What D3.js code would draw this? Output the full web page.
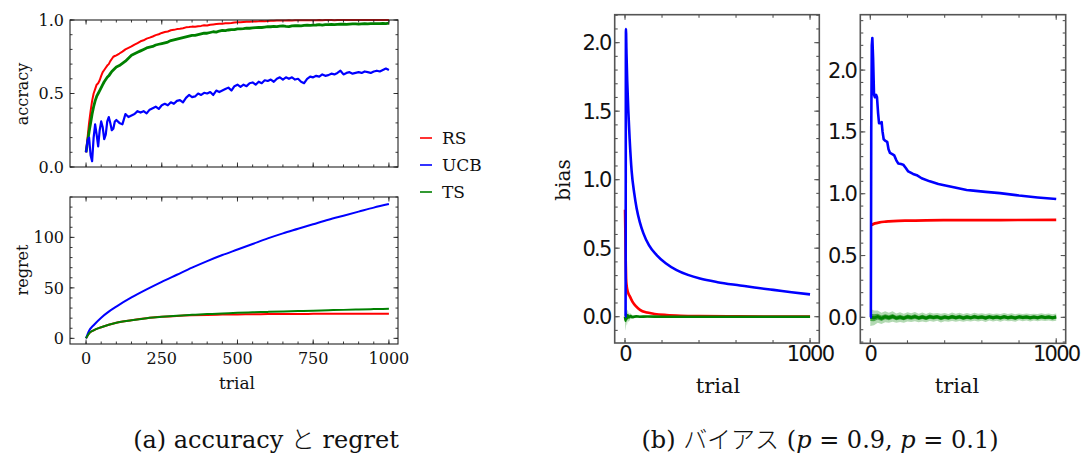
<!DOCTYPE html>
<html>
<head>
<meta charset="utf-8">
<script src="https://cdn.jsdelivr.net/npm/d3@7"></script>
<style>
  html, body { margin: 0; padding: 0; background: #fff; }
  svg { display: block; }
</style>
</head>
<body>
<svg id="chart" width="1085" height="458"></svg>
<script>
// ---------------- DATA ----------------
const seriesNames = ["RS", "UCB", "TS"];
const seriesColors = ["#ff0000", "#0000ff", "#008000"];

// accuracy: trials 0..100 step 5, then 110..1000 step 10
const accTrials = d3.range(0, 101, 5).concat(d3.range(110, 1001, 10));
const accRS = [0.10,0.20,0.30,0.38,0.45,0.50,0.53,0.56,0.57,0.59,0.62,0.645,0.66,0.675,0.69,0.70,0.72,0.735,0.75,0.755,0.76,
  0.772,0.785,0.80,0.81,0.82,0.832,0.843,0.855,0.862,0.873,
  0.88,0.888,0.897,0.903,0.912,0.918,0.922,0.93,0.933,0.938,
  0.94,0.944,0.95,0.952,0.955,0.954,0.958,0.96,0.964,0.963,
  0.968,0.97,0.972,0.974,0.975,0.978,0.978,0.98,0.983,0.984,
  0.985,0.987,0.988,0.988,0.99,0.99,0.991,0.993,0.992,0.994,
  0.995,0.995,0.996,0.996,0.997,0.997,0.998,0.997,0.998,0.998,
  0.999,0.998,0.999,0.999,0.999,0.999,1.0,0.999,1.0,1.0,
  1.0,0.999,1.0,1.0,1.0,1.0,1.0,1.0,1.0,1.0,
  1.0,1.0,1.0,1.0,1.0,1.0,1.0,1.0,1.0,1.0];
const accUCB = [0.10,0.18,0.20,0.08,0.04,0.20,0.29,0.22,0.14,0.25,0.31,0.27,0.19,0.22,0.31,0.34,0.30,0.25,0.26,0.31,0.32,
  0.30,0.29,0.36,0.34,0.35,0.36,0.38,0.37,0.38,0.365,
  0.39,0.40,0.41,0.395,0.42,0.43,0.42,0.44,0.43,0.45,
  0.455,0.44,0.47,0.49,0.475,0.48,0.50,0.49,0.505,0.50,
  0.51,0.49,0.52,0.51,0.52,0.53,0.54,0.52,0.55,0.56,
  0.545,0.56,0.55,0.57,0.575,0.56,0.58,0.57,0.59,0.585,
  0.595,0.58,0.60,0.61,0.595,0.61,0.60,0.61,0.595,0.60,
  0.58,0.57,0.60,0.615,0.61,0.62,0.615,0.63,0.62,0.625,
  0.635,0.63,0.64,0.655,0.63,0.64,0.645,0.635,0.64,0.645,
  0.64,0.65,0.645,0.64,0.65,0.655,0.65,0.66,0.67,0.66];
const accTS = [0.10,0.17,0.24,0.30,0.36,0.41,0.45,0.48,0.50,0.52,0.54,0.56,0.58,0.595,0.61,0.62,0.635,0.65,0.66,0.67,0.68,
  0.69,0.705,0.72,0.74,0.76,0.77,0.78,0.79,0.80,0.81,
  0.815,0.82,0.83,0.835,0.84,0.845,0.85,0.86,0.865,0.87,
  0.875,0.88,0.885,0.89,0.895,0.895,0.90,0.905,0.91,0.91,
  0.915,0.92,0.918,0.925,0.93,0.928,0.932,0.935,0.934,0.94,
  0.94,0.942,0.945,0.944,0.946,0.948,0.95,0.949,0.952,0.955,
  0.954,0.956,0.955,0.958,0.96,0.957,0.955,0.96,0.961,0.962,
  0.96,0.963,0.965,0.963,0.965,0.966,0.968,0.965,0.968,0.968,
  0.97,0.968,0.97,0.971,0.972,0.97,0.972,0.973,0.974,0.972,
  0.974,0.975,0.974,0.975,0.976,0.975,0.976,0.977,0.975,0.978];

// regret
const regTrials = [0,10,25,50,75,100,150,200,250,300,350,400,450,500,550,600,650,700,750,800,850,900,950,1000];
const regRS  = [0,5,8,11,13.5,15.5,18,20,21.3,22.2,22.8,23.2,23.5,23.7,23.85,24,24.1,24.2,24.25,24.3,24.35,24.4,24.4,24.4];
const regUCB = [0,7.5,13,20.5,26.5,31.5,40.5,48.5,56,63,70,76.5,82.5,88,93.5,99,104,108.5,113,117.5,121.5,125.5,129.5,133];
const regTS  = [0,5,8,11,13.5,15.5,18,20,21.4,22.5,23.3,24,24.6,25.3,25.8,26.2,26.6,27,27.4,27.9,28.2,28.6,29,29.3];

// bias, p = 0.9
const b9UCBTrials = [0,3,5,8,12,18,25,36,50,63,80,99,130,171,220,279,340,405,500,622,700,802,900,1000];
const b9UCB       = [0,0,2.1,1.92,1.72,1.5,1.3,1.06,0.9,0.79,0.69,0.61,0.52,0.45,0.39,0.34,0.305,0.278,0.252,0.228,0.213,0.196,0.179,0.163];
const b9RSTrials  = [0,2,4,6,8,12,18,27,40,60,81,120,160,225,300,400,600,800,1000];
const b9RS        = [0.78,0.6,0.4,0.28,0.24,0.2,0.17,0.146,0.11,0.075,0.05,0.03,0.02,0.012,0.007,0.004,0.002,0.001,0.001];
const b9RSSpread  = [0.05,0.05,0.04,0.04,0.035,0.03,0.025,0.02,0.015,0.01,0.008,0.006,0.005,0.004,0.003,0.002,0.002,0.002,0.002];
const b9TSTrials  = [0,3,6,10,15,20,30,40,60,80,120,200,400,600,800,1000];
const b9TS        = [0,-0.03,0.02,-0.015,0.01,-0.006,0.004,-0.002,0.002,0,0.001,0,0,0,0,0];
const b9TSSpread  = [0.07,0.07,0.06,0.05,0.04,0.03,0.02,0.015,0.01,0.008,0.006,0.005,0.004,0.004,0.004,0.004];

// bias, p = 0.1
const b1UCBTrials = [0,3,5,8,11,15,20,25,31,36,42,47,55,61,66,72,79,91,98,106,118,129,140,150,165,177,190,204,230,250,276,320,366,410,455,518,554,620,697,800,900,1000];
const b1UCB       = [0,0,1.5,2.2,2.26,2.1,1.8,1.78,1.80,1.78,1.65,1.57,1.57,1.58,1.50,1.44,1.43,1.42,1.36,1.33,1.32,1.31,1.27,1.245,1.24,1.235,1.21,1.18,1.16,1.15,1.125,1.10,1.078,1.065,1.05,1.03,1.025,1.015,1.005,0.985,0.97,0.957];
const b1RSTrials  = [0,10,25,50,75,100,150,200,300,500,700,1000];
const b1RS        = [0.745,0.75,0.76,0.768,0.773,0.776,0.78,0.782,0.785,0.786,0.787,0.788];
const b1TSTrials  = d3.range(0, 1001, 20);
const b1TS        = [0,-0.004,0.006,-0.008,0.005,-0.003,0.007,-0.006,0.002,-0.007,0.004,-0.002,0.006,-0.005,0.003,-0.006,0.005,-0.002,0.004,-0.006,0.002,-0.004,0.005,-0.003,0.004,-0.005,0.003,-0.004,0.005,-0.002,0.003,-0.005,0.004,-0.003,0.002,-0.004,0.005,-0.003,0.002,-0.005,0.004,-0.002,0.003,-0.004,0.002,-0.003,0.004,-0.002,0.003,-0.004,0.002];
const b1TSSpread  = [0.07,0.06,0.05,0.046,0.044,0.04,0.042,0.038,0.04,0.036,0.038,0.035,0.037,0.034,0.036,0.033,0.035,0.034,0.032,0.035,0.033,0.031,0.034,0.032,0.033,0.031,0.033,0.03,0.032,0.031,0.03,0.032,0.03,0.031,0.029,0.031,0.03,0.029,0.031,0.03,0.028,0.03,0.029,0.03,0.028,0.029,0.03,0.028,0.029,0.028,0.029];
const b1TSCore    = [0.03,0.028,0.024,0.022,0.02,0.02,0.019,0.018,0.019,0.017,0.018,0.017,0.018,0.016,0.017,0.016,0.017,0.016,0.015,0.017,0.016,0.015,0.016,0.015,0.016,0.015,0.016,0.014,0.015,0.015,0.014,0.015,0.014,0.015,0.014,0.015,0.014,0.014,0.015,0.014,0.013,0.014,0.014,0.014,0.013,0.014,0.014,0.013,0.014,0.013,0.014];

// ---------------- DRAW ----------------
const svg = d3.select("#chart");
svg.append("rect").attr("width", 1085).attr("height", 458).attr("fill", "#fff");

const SERIF = "'DejaVu Serif', serif";
const SANS = "'DejaVu Sans', sans-serif";

function zip(xs, ys) { return xs.map((x, i) => [x, ys[i]]); }

function frameAndTicks(g, x, y, opt) {
  const [x0, x1] = x.range(), [y0, y1] = y.range();
  const tk = g.append("g").attr("stroke", opt.color).attr("stroke-width", opt.tickW);
  opt.xMinor.forEach(v => {
    const px = x(v);
    tk.append("line").attr("x1", px).attr("x2", px).attr("y1", y0).attr("y2", y0 - opt.minL);
    tk.append("line").attr("x1", px).attr("x2", px).attr("y1", y1).attr("y2", y1 + opt.minL);
  });
  opt.xMajor.forEach(v => {
    const px = x(v);
    tk.append("line").attr("x1", px).attr("x2", px).attr("y1", y0).attr("y2", y0 - opt.majL);
    tk.append("line").attr("x1", px).attr("x2", px).attr("y1", y1).attr("y2", y1 + opt.majL);
  });
  opt.yMinor.forEach(v => {
    const py = y(v);
    tk.append("line").attr("x1", x0).attr("x2", x0 + opt.minL).attr("y1", py).attr("y2", py);
    tk.append("line").attr("x1", x1).attr("x2", x1 - opt.minL).attr("y1", py).attr("y2", py);
  });
  opt.yMajor.forEach(v => {
    const py = y(v);
    tk.append("line").attr("x1", x0).attr("x2", x0 + opt.majL).attr("y1", py).attr("y2", py);
    tk.append("line").attr("x1", x1).attr("x2", x1 - opt.majL).attr("y1", py).attr("y2", py);
  });
  g.append("rect").attr("x", x0).attr("y", y1).attr("width", x1 - x0).attr("height", y0 - y1)
    .attr("fill", "none").attr("stroke", opt.color).attr("stroke-width", opt.frameW);
  if (opt.yLabels) {
    g.selectAll(null).data(opt.yMajor).enter().append("text")
      .attr("x", x0 - opt.yLabGap).attr("y", v => y(v)).attr("dy", "0.36em")
      .attr("text-anchor", "end").attr("font-family", opt.font).attr("font-size", opt.fs)
      .attr("letter-spacing", opt.ls || 0).attr("fill", "#111").text(opt.yFmt);
  }
  if (opt.xLabels) {
    g.selectAll(null).data(opt.xMajor).enter().append("text")
      .attr("x", v => x(v)).attr("y", y0 + opt.xLabGap).attr("dy", "0.72em")
      .attr("text-anchor", "middle").attr("font-family", opt.font).attr("font-size", opt.fs)
      .attr("letter-spacing", opt.ls || 0).attr("fill", "#111").text(opt.xFmt);
  }
}

// ---- Panel (a) top: accuracy
const xL = d3.scaleLinear().domain([-53, 1030]).range([70, 398]);
const yAcc = d3.scaleLinear().domain([0, 1]).range([167, 20]);
const gAcc = svg.append("g");
const leftOpt = {
  color: "#222", tickW: 0.9, frameW: 1.1, majL: 4.5, minL: 2.5,
  xMajor: d3.range(0, 1001, 250), xMinor: d3.range(0, 1001, 50),
  font: SERIF, fs: 16, yLabGap: 6, xLabGap: 8
};
svg.append("clipPath").attr("id", "clipAcc").append("rect")
  .attr("x", 70).attr("y", 18).attr("width", 328).attr("height", 149);
const lineAcc = d3.line().x(d => xL(d[0])).y(d => yAcc(d[1]));
const accSeries = [accRS, accUCB, accTS];
const accWidths = [2.0, 2.2, 2.8];
[0, 2, 1].forEach(i => {
  gAcc.append("path").attr("d", lineAcc(zip(accTrials, accSeries[i])))
    .attr("fill", "none").attr("stroke", seriesColors[i]).attr("stroke-width", accWidths[i])
    .attr("stroke-linejoin", "round").attr("clip-path", "url(#clipAcc)");
});
frameAndTicks(gAcc, xL, yAcc, Object.assign({}, leftOpt, {
  yMajor: [0, 0.5, 1.0], yMinor: d3.range(0, 1.001, 0.1),
  yLabels: true, yFmt: d3.format(".1f"), xLabels: false
}));
gAcc.append("text").attr("transform", "translate(28,94) rotate(-90)")
  .attr("text-anchor", "middle").attr("font-family", SERIF).attr("font-size", 16)
  .attr("fill", "#111").text("accracy");

// ---- Panel (a) bottom: regret
const yReg = d3.scaleLinear().domain([-5.6, 140]).range([344, 197]);
const gReg = svg.append("g");
const lineReg = d3.line().curve(d3.curveMonotoneX).x(d => xL(d[0])).y(d => yReg(d[1]));
const regSeries = [regRS, regUCB, regTS];
[0, 1, 2].forEach(i => {
  gReg.append("path").attr("d", lineReg(zip(regTrials, regSeries[i])))
    .attr("fill", "none").attr("stroke", seriesColors[i]).attr("stroke-width", 2.0);
});
frameAndTicks(gReg, xL, yReg, Object.assign({}, leftOpt, {
  yMajor: [0, 50, 100], yMinor: d3.range(0, 141, 10),
  yLabels: true, yFmt: d3.format("d"), xLabels: true, xFmt: d3.format("d")
}));
gReg.append("text").attr("transform", "translate(28,270) rotate(-90)")
  .attr("text-anchor", "middle").attr("font-family", SERIF).attr("font-size", 16)
  .attr("fill", "#111").text("regret");
gReg.append("text").attr("x", 237).attr("y", 389)
  .attr("text-anchor", "middle").attr("font-family", SERIF).attr("font-size", 17)
  .attr("fill", "#111").text("trial");

// ---- Legend
const leg = svg.append("g");
seriesNames.forEach((n, i) => {
  const yy = 138 + i * 27;
  leg.append("line").attr("x1", 420).attr("x2", 432).attr("y1", yy).attr("y2", yy)
    .attr("stroke", seriesColors[i]).attr("stroke-width", 1.6);
  leg.append("text").attr("x", 442).attr("y", yy).attr("dy", "0.36em")
    .attr("font-family", SERIF).attr("font-size", 17).attr("fill", "#111").text(n);
});

// ---- Panel (b) helpers
const rightOpt = {
  color: "#555", tickW: 1.1, frameW: 1.6, majL: 5, minL: 3,
  xMajor: [0, 1000], xMinor: d3.range(0, 1001, 200),
  font: SANS, fs: 21, ls: -1.7, yLabGap: 4, xLabGap: 3,
  yLabels: true, xLabels: true, yFmt: d3.format(".1f"), xFmt: d3.format("d")
};

function biasPanel(x, y, parts, yMajor, yMinor, clipId) {
  const g = svg.append("g");
  const [x0, x1] = x.range(), [y0, y1] = y.range();
  svg.append("clipPath").attr("id", clipId).append("rect")
    .attr("x", x0).attr("y", y1).attr("width", x1 - x0).attr("height", y0 - y1);
  const gd = g.append("g").attr("clip-path", `url(#${clipId})`);
  parts.forEach(p => {
    (p.bands || []).forEach(b => {
      const area = d3.area().curve(p.curve || d3.curveMonotoneX)
        .x((d, i) => x(p.t[i])).y0((d, i) => y(p.v[i] - b.s[i])).y1((d, i) => y(p.v[i] + b.s[i]));
      gd.append("path").attr("d", area(p.v)).attr("fill", p.color).attr("opacity", b.op);
    });
    const line = d3.line().curve(p.curve || d3.curveMonotoneX).x(d => x(d[0])).y(d => y(d[1]));
    gd.append("path").attr("d", line(zip(p.t, p.v))).attr("fill", "none")
      .attr("stroke", p.color).attr("stroke-width", p.w || 2.5).attr("stroke-linejoin", "round");
  });
  frameAndTicks(g, x, y, Object.assign({}, rightOpt, { yMajor, yMinor }));
  return g;
}

// p = 0.9
const xB1 = d3.scaleLinear().domain([-55.7, 1050]).range([614.7, 819.3]);
const yB1 = d3.scaleLinear().domain([-0.192, 2.204]).range([343, 14.7]);
biasPanel(xB1, yB1, [
  { t: b9RSTrials, v: b9RS, bands: [{ s: b9RSSpread, op: 0.25 }], color: seriesColors[0], w: 2.6 },
  { t: b9TSTrials, v: b9TS, bands: [{ s: b9TSSpread, op: 0.3 }], color: seriesColors[2], w: 2.6 },
  { t: b9UCBTrials, v: b9UCB, color: seriesColors[1], w: 2.6 }
], [0, 0.5, 1.0, 1.5, 2.0], d3.range(-1, 23).map(k => k / 10), "clipB1");

// p = 0.1
const xB2 = d3.scaleLinear().domain([-53.8, 1051]).range([860.3, 1065.7]);
const yB2 = d3.scaleLinear().domain([-0.21, 2.448]).range([343.3, 14.7]);
biasPanel(xB2, yB2, [
  { t: b1TSTrials, v: b1TS, bands: [{ s: b1TSSpread, op: 0.3 }, { s: b1TSCore, op: 0.6 }],
    color: seriesColors[2], w: 3.0, curve: d3.curveLinear },
  { t: b1RSTrials, v: b1RS, color: seriesColors[0], w: 2.7 },
  { t: b1UCBTrials, v: b1UCB, color: seriesColors[1], w: 2.6, curve: d3.curveLinear }
], [0, 0.5, 1.0, 1.5, 2.0], d3.range(-2, 25).map(k => k / 10), "clipB2");

svg.append("text").attr("transform", "translate(570,180) rotate(-90)")
  .attr("text-anchor", "middle").attr("font-family", SERIF).attr("font-size", 20)
  .attr("fill", "#111").text("bias");
svg.append("text").attr("x", 718).attr("y", 393)
  .attr("text-anchor", "middle").attr("font-family", SERIF).attr("font-size", 21)
  .attr("fill", "#111").text("trial");
svg.append("text").attr("x", 957).attr("y", 393)
  .attr("text-anchor", "middle").attr("font-family", SERIF).attr("font-size", 21)
  .attr("fill", "#111").text("trial");

// ---- Captions
const capA = svg.append("text").attr("x", 266).attr("y", 448).attr("text-anchor", "middle")
  .attr("font-family", SERIF + ", 'Noto Sans CJK JP'").attr("font-size", 24).attr("fill", "#111");
capA.append("tspan").text("(a) accuracy ");
capA.append("tspan").attr("font-family", "'Noto Sans CJK JP'").attr("font-weight", 300).text("と");
capA.append("tspan").text(" regret");

const capB = svg.append("text").attr("x", 820).attr("y", 448).attr("text-anchor", "middle")
  .attr("font-family", SERIF).attr("font-size", 24).attr("fill", "#111");
capB.append("tspan").text("(b) ");
capB.append("tspan").attr("font-family", "'Noto Sans CJK JP'").attr("font-weight", 300).text("バイアス");
capB.append("tspan").text(" (");
capB.append("tspan").attr("font-style", "italic").text("p");
capB.append("tspan").text(" = 0.9, ");
capB.append("tspan").attr("font-style", "italic").text("p");
capB.append("tspan").text(" = 0.1)");
</script>
</body>
</html>
